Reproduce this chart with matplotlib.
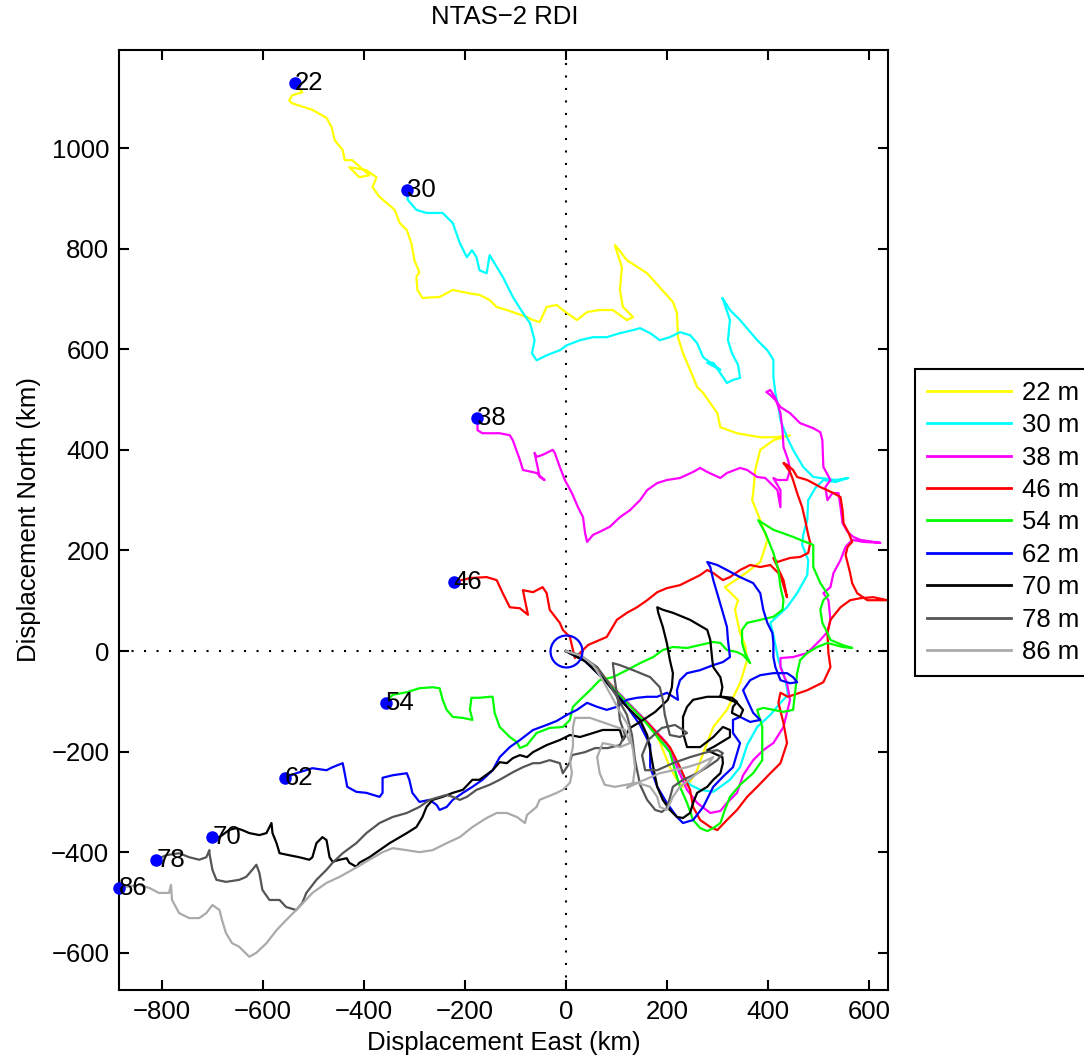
import numpy as np
import matplotlib.pyplot as plt

plt.rcParams['font.family'] = ['Liberation Sans', 'DejaVu Sans']

# progressive vector tracks (km), one per instrument depth, start at mooring (0,0)
depths = [22, 30, 38, 46, 54, 62, 70, 78, 86]
colors = ['yellow', 'cyan', 'magenta', 'red', 'lime', 'blue', 'black', '#555555', '#aaaaaa']

x22 = [0, 38, 77, 117, 147, 171, 186, 206, 220, 232, 246, 260, 272, 292, 319, 345, 359, 355, 345, 335,
       341, 315, 351, 385, 391, 399, 385, 369, 371, 375, 385, 411, 444, 415, 385, 339, 306, 300, 272, 260,
       246, 232, 222, 220, 212, 161, 121, 101, 97, 111, 107, 113, 133, 121, 93, 67, 42, 22, -6, -18,
       -38, -52, -65, -77, -117, -137, -151, -171, -196, -224, -250, -284, -294, -296, -290, -300, -306, -315, -329, -339,
       -369, -383, -375, -395, -429, -409, -389, -423, -438, -442, -458, -464, -474, -502, -542, -548, -542, -522, -536]
y22 = [0, -18, -52, -97, -127, -151, -181, -231, -256, -270, -260, -237, -203, -151, -117, -64, -18, 12, 36, 82,
       101, 127, 151, 177, 195, 221, 260, 300, 314, 360, 400, 419, 429, 425, 425, 433, 445, 473, 513, 525,
       559, 592, 624, 672, 694, 751, 777, 803, 807, 763, 718, 684, 664, 658, 678, 678, 674, 658, 678, 688,
       684, 654, 658, 664, 678, 684, 698, 708, 712, 718, 704, 702, 718, 744, 753, 777, 811, 837, 851, 877,
       903, 922, 942, 956, 962, 942, 946, 976, 976, 996, 1016, 1042, 1060, 1076, 1089, 1095, 1105, 1111, 1129]

x30 = [0, 38, 77, 121, 157, 192, 212, 226, 246, 266, 292, 306, 325, 345, 359, 379, 405, 425, 440, 435,
       421, 411, 405, 438, 458, 478, 480, 468, 470, 478, 480, 494, 510, 534, 559, 534, 490, 470, 450, 438,
       425, 421, 415, 411, 411, 399, 379, 345, 325, 310, 315, 325, 321, 329, 341, 345, 331, 319, 292, 280,
       306, 272, 260, 246, 226, 206, 186, 167, 147, 133, 107, 81, 54, 28, 2, -12, -38, -58, -67, -62,
       -71, -85, -105, -125, -151, -157, -171, -177, -186, -196, -210, -224, -244, -276, -296, -313, -315]
y30 = [0, -20, -54, -101, -137, -177, -211, -241, -266, -276, -280, -270, -256, -231, -187, -151, -127, -103, -87, -58,
       -18, 32, 56, 87, 115, 151, 181, 211, 231, 260, 300, 324, 340, 336, 344, 340, 346, 366, 400, 425,
       459, 485, 513, 545, 579, 598, 618, 658, 678, 702, 688, 658, 618, 592, 569, 543, 539, 533, 573, 573,
       559, 584, 612, 628, 634, 624, 618, 632, 642, 638, 632, 624, 624, 618, 608, 598, 588, 578, 592, 618,
       652, 672, 704, 744, 787, 751, 757, 783, 797, 783, 811, 851, 871, 871, 877, 897, 916]

x38 = [0, 38, 77, 123, 161, 200, 220, 240, 260, 286, 306, 319, 339, 351, 371, 391, 411, 431, 444, 438,
       425, 425, 450, 478, 504, 518, 524, 520, 510, 524, 530, 544, 554, 567, 589, 623, 583, 569, 558, 548,
       544, 540, 528, 518, 514, 524, 510, 508, 504, 490, 464, 444, 425, 415, 405, 397, 405, 415, 425, 429,
       431, 440, 444, 438, 419, 411, 425, 425, 419, 395, 379, 359, 345, 319, 306, 280, 266, 252, 226, 200,
       181, 161, 147, 127, 107, 87, 67, 54, 42, 38, 34, 24, 12, -2, -12, -22, -26, -46, -58, -62,
       -56, -52, -42, -58, -85, -91, -105, -111, -131, -165, -175, -175, -175]
y38 = [0, -20, -54, -103, -141, -183, -231, -276, -302, -322, -318, -302, -282, -247, -217, -197, -183, -151, -97, -64,
       -32, -14, -12, -4, 22, 38, 62, 101, 115, 127, 155, 181, 207, 221, 217, 215, 221, 227, 237, 254,
       286, 314, 314, 300, 326, 340, 366, 419, 435, 443, 453, 473, 485, 499, 509, 515, 519, 503, 473, 439,
       406, 380, 360, 340, 340, 344, 320, 286, 320, 344, 346, 360, 364, 354, 344, 356, 364, 356, 344, 340,
       334, 320, 300, 280, 266, 247, 237, 231, 217, 235, 266, 286, 314, 340, 366, 394, 400, 390, 386, 394,
       366, 346, 340, 354, 360, 380, 419, 429, 433, 433, 439, 459, 463]

x46 = [0, 38, 77, 123, 163, 206, 226, 246, 252, 266, 286, 300, 319, 339, 359, 379, 405, 425, 438, 431,
       421, 425, 440, 478, 510, 524, 520, 518, 524, 544, 563, 583, 609, 637, 597, 577, 567, 563, 558, 554,
       558, 567, 560, 550, 548, 544, 530, 504, 478, 458, 450, 438, 431, 444, 450, 458, 468, 474, 480, 484,
       480, 464, 444, 431, 419, 411, 419, 431, 438, 425, 405, 385, 365, 345, 325, 311, 292, 280, 266, 246,
       226, 200, 181, 161, 141, 121, 101, 81, 44, 18, 14, 8, -6, -12, -32, -38, -46, -65, -85, -81,
       -75, -91, -111, -125, -137, -157, -190, -222]
y46 = [0, -20, -56, -105, -145, -191, -231, -276, -310, -336, -350, -356, -336, -316, -290, -270, -243, -223, -183, -143,
       -103, -83, -91, -78, -62, -32, -4, 36, 62, 87, 101, 105, 107, 101, 101, 115, 135, 155, 175, 191,
       207, 217, 235, 254, 280, 306, 314, 326, 340, 346, 360, 370, 374, 356, 340, 314, 286, 260, 231, 215,
       195, 187, 185, 181, 177, 185, 167, 141, 107, 151, 171, 167, 171, 161, 147, 141, 155, 161, 151, 141,
       131, 125, 117, 101, 87, 76, 62, 28, 12, -14, 2, 28, 42, 56, 82, 115, 127, 117, 121, 101,
       72, 85, 87, 115, 141, 147, 145, 137]

x54 = [0, 38, 77, 121, 159, 186, 206, 216, 226, 240, 252, 266, 280, 292, 306, 315, 325, 345, 371, 389,
       389, 389, 379, 391, 411, 431, 450, 454, 458, 464, 478, 498, 518, 548, 567, 548, 524, 518, 508, 504,
       510, 520, 504, 490, 490, 464, 450, 411, 381, 395, 411, 421, 425, 431, 429, 411, 385, 359, 349, 349,
       355, 365, 351, 339, 319, 306, 292, 266, 240, 212, 192, 173, 147, 121, 93, 67, 48, 28, 14, 8,
       -6, -32, -58, -77, -91, -97, -111, -131, -141, -145, -151, -171, -187, -190, -185, -204, -224, -236, -244, -250,
       -264, -290, -315, -343, -357]
y54 = [0, -20, -56, -103, -143, -177, -201, -237, -270, -302, -336, -352, -358, -352, -342, -316, -290, -266, -243, -217,
       -183, -151, -117, -113, -117, -121, -117, -83, -44, -18, -4, 8, 16, 8, 6, 12, 22, 36, 56, 82,
       101, 111, 135, 167, 211, 221, 227, 241, 260, 235, 195, 161, 127, 101, 82, 68, 62, 56, 42, 16,
       -4, -24, -8, -2, 2, 16, 18, 12, 6, 8, 2, -12, -24, -38, -52, -58, -78, -97, -111, -137,
       -151, -153, -163, -187, -193, -181, -171, -151, -123, -91, -91, -93, -93, -117, -137, -133, -131, -117, -97, -74,
       -72, -74, -82, -87, -103]

x62 = [0, 38, 77, 117, 147, 167, 167, 181, 200, 220, 232, 252, 272, 292, 311, 331, 345, 331, 331, 345,
       365, 385, 371, 359, 351, 365, 385, 411, 438, 450, 458, 444, 425, 415, 411, 411, 409, 399, 391, 385,
       371, 345, 319, 300, 280, 286, 292, 302, 311, 319, 321, 325, 311, 292, 266, 240, 226, 220, 222, 200,
       181, 161, 141, 121, 101, 81, 62, 42, 22, 2, -18, -38, -65, -91, -111, -131, -145, -165, -185, -204,
       -224, -236, -250, -256, -270, -290, -304, -310, -315, -343, -363, -363, -369, -395, -415, -433, -438, -442, -462, -474,
       -502, -534, -557]
y62 = [0, -20, -58, -105, -147, -187, -231, -270, -302, -330, -342, -336, -310, -270, -250, -231, -183, -163, -137, -131,
       -141, -137, -123, -97, -78, -58, -48, -44, -44, -52, -62, -64, -58, -32, -12, 16, 36, 56, 82, 115,
       135, 147, 161, 171, 177, 167, 141, 107, 76, 48, 22, -12, -22, -28, -38, -44, -58, -78, -97, -83,
       -91, -91, -93, -97, -111, -117, -111, -103, -117, -127, -139, -147, -157, -177, -191, -211, -237, -256, -270, -282,
       -296, -310, -316, -306, -296, -300, -282, -256, -243, -247, -252, -282, -290, -282, -280, -270, -243, -223, -231, -237,
       -233, -243, -253]

x70 = [0, 38, 77, 117, 147, 161, 167, 173, 181, 192, 206, 220, 232, 246, 252, 260, 280, 292, 306, 311,
       310, 292, 280, 292, 325, 325, 311, 292, 266, 240, 232, 232, 240, 252, 280, 311, 329, 339, 331, 329,
       345, 351, 339, 315, 306, 310, 306, 292, 290, 286, 280, 246, 212, 192, 181, 183, 192, 200, 206, 212,
       210, 202, 177, 147, 127, 113, 107, 93, 73, 54, 28, 8, -12, -38, -65, -77, -91, -105, -117, -131,
       -145, -171, -185, -204, -224, -244, -264, -276, -284, -296, -315, -349, -369, -389, -409, -415, -429, -434, -448, -462,
       -468, -474, -482, -488, -494, -502, -508, -528, -548, -567, -573, -581, -583, -593, -607, -627, -641, -653, -667, -686,
       -700]
y70 = [0, -20, -58, -107, -137, -167, -197, -231, -270, -296, -316, -330, -332, -322, -302, -282, -270, -256, -243, -223,
       -211, -203, -197, -191, -171, -157, -151, -171, -191, -191, -163, -131, -111, -97, -91, -91, -93, -101, -111, -123,
       -131, -117, -103, -93, -91, -72, -52, -32, -18, 22, 42, 62, 76, 82, 87, 76, 48, 16, -18, -44,
       -72, -97, -121, -141, -153, -177, -157, -157, -157, -163, -171, -167, -177, -187, -201, -211, -207, -213, -223, -221,
       -237, -256, -256, -276, -282, -290, -296, -310, -330, -350, -362, -382, -396, -410, -421, -429, -421, -412, -415, -419,
       -410, -376, -370, -376, -382, -410, -415, -410, -406, -402, -382, -362, -342, -362, -366, -362, -356, -352, -356, -370,
       -370]

x78 = [0, 28, 62, 81, 101, 121, 131, 137, 147, 161, 177, 190, 200, 206, 212, 232, 260, 280, 300, 311,
       300, 280, 246, 212, 181, 157, 151, 163, 190, 216, 232, 240, 226, 206, 196, 192, 186, 167, 133, 107,
       93, 97, 103, 107, 117, 107, 83, 58, 38, 12, 8, 2, -6, -12, -32, -52, -65, -85, -105, -131,
       -151, -177, -196, -210, -224, -236, -250, -270, -290, -315, -343, -369, -395, -415, -442, -462, -474, -494, -514, -522,
       -534, -554, -567, -587, -601, -607, -613, -621, -633, -647, -673, -692, -700, -706, -706, -712, -726, -746, -766, -792,
       -811]
y78 = [0, -8, -32, -58, -91, -127, -167, -217, -266, -296, -316, -320, -312, -292, -270, -256, -243, -231, -217, -203,
       -197, -201, -211, -223, -237, -237, -207, -177, -153, -147, -157, -163, -171, -167, -127, -97, -72, -52, -38, -28,
       -24, -58, -97, -137, -167, -187, -193, -193, -201, -207, -221, -231, -243, -223, -217, -223, -223, -231, -241, -256,
       -266, -276, -290, -296, -290, -286, -290, -296, -310, -322, -330, -342, -362, -382, -402, -421, -435, -455, -481, -501,
       -515, -509, -495, -495, -475, -441, -425, -435, -449, -455, -459, -455, -435, -402, -396, -410, -415, -410, -402, -406,
       -415]

x86 = [0, 32, 54, 73, 91, 107, 123, 133, 137, 133, 121, 147, 186, 240, 266, 292, 280, 252, 226, 212,
       200, 186, 181, 167, 141, 97, 77, 67, 62, 73, 93, 107, 127, 117, 77, 48, 18, 14, 14, 8,
       12, 8, -6, -18, -52, -58, -77, -81, -97, -117, -137, -157, -185, -210, -236, -264, -290, -315, -343, -363,
       -389, -423, -448, -474, -502, -528, -554, -573, -593, -613, -627, -647, -661, -673, -681, -686, -700, -712, -726, -746,
       -766, -780, -782, -786, -806, -825, -845, -885]
y86 = [0, -10, -28, -58, -91, -121, -147, -197, -231, -262, -272, -260, -243, -231, -223, -211, -227, -250, -270, -290,
       -316, -310, -290, -270, -262, -270, -266, -243, -211, -183, -187, -191, -183, -157, -143, -133, -133, -151, -191, -217,
       -243, -262, -276, -282, -296, -310, -326, -342, -330, -322, -322, -332, -350, -370, -382, -396, -400, -396, -392, -400,
       -415, -435, -449, -461, -481, -509, -535, -555, -581, -600, -608, -588, -581, -561, -535, -515, -505, -521, -531, -531,
       -521, -495, -465, -481, -481, -471, -465, -471]

tracks = [(x22, y22), (x30, y30), (x38, y38), (x46, y46), (x54, y54),
          (x62, y62), (x70, y70), (x78, y78), (x86, y86)]

fs = 18.5

fig = plt.figure(figsize=(10.84, 10.61), dpi=100)
ax = fig.add_axes([119/1084, 71/1061, 769/1084, 940/1061])

ax.axhline(0, color='k', ls=(0, (1, 5)), lw=1.5, zorder=1)
ax.axvline(0, color='k', ls=(0, (1, 5)), lw=1.5, zorder=1)

for d, c, (x, y) in zip(depths, colors, tracks):
    ax.plot(x, y, color=c, lw=1.6, label='%d m' % d, zorder=2)

for d, (x, y) in zip(depths, tracks):
    ax.plot(x[-1], y[-1], 'o', color='b', ms=8, zorder=4, clip_on=False)
    ax.text(x[-1], y[-1], str(d), ha='left', va='center', fontsize=fs, zorder=5)

ax.plot(0, 0, 'o', ms=23, mfc='none', mec='b', mew=1.6, zorder=3)

ax.set_xlim(-885, 638)
ax.set_ylim(-674, 1195)
ax.set_xticks(np.arange(-800, 601, 200))
ax.set_yticks(np.arange(-600, 1001, 200))
ax.tick_params(direction='in', length=7, width=1.5, top=True, right=True, labelsize=fs, pad=7)
for s in ax.spines.values():
    s.set_linewidth(1.5)

ax.set_xlabel('Displacement East (km)', fontsize=fs, labelpad=5)
ax.set_ylabel('Displacement North (km)', fontsize=fs, labelpad=7)
fig.text(505/1084, 1 - 17/1061, 'NTAS\u22122 RDI', ha='center', va='center', fontsize=fs)

leg = ax.legend(loc='upper left', bbox_to_anchor=(915/1084, 1 - 369/1061),
                bbox_transform=fig.transFigure, fontsize=fs, fancybox=False,
                edgecolor='k', framealpha=1, borderaxespad=0, handlelength=3.3,
                handletextpad=0.4, labelspacing=0.33, borderpad=0.45)
leg.get_frame().set_linewidth(1.5)
for h in leg.get_lines():
    h.set_linewidth(2)

fig.savefig('out.png', dpi=100)
